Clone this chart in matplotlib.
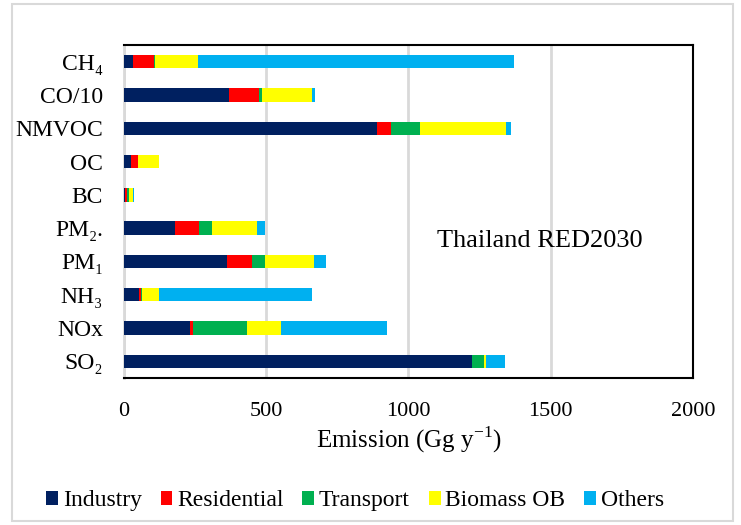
import numpy as np
import matplotlib.pyplot as plt
from matplotlib.patches import Rectangle

# =========================
# DATA (Gg per year)
# =========================
species = ["CH₄", "CO/10", "NMVOC", "OC", "BC", "PM₂.", "PM₁", "NH₃", "NOx", "SO₂"]
sectors = ["Industry", "Residential", "Transport", "Biomass OB", "Others"]

industry = [32, 369, 888, 25, 3, 179, 362, 53, 232, 1223]
residential = [73, 106, 50, 24, 7, 85, 88, 8, 9, 2]
transport = [3, 11, 102, 2, 8, 44, 47, 1, 191, 40]
biomass_ob = [152, 175, 303, 72, 13, 159, 171, 62, 120, 6]
others = [1111, 9, 17, 1, 4, 27, 43, 536, 374, 67]

colors = ["#002060", "#FF0000", "#00B050", "#FFFF00", "#00B0F0"]

serif = ["Liberation Serif", "DejaVu Serif"]
plt.rcParams["font.family"] = serif

# =========================
# PLOT
# =========================
fig = plt.figure(figsize=(7.41, 5.25), dpi=100)
ax = fig.add_axes([0.1673, 0.28, 0.7679, 0.6343])

y = np.arange(len(species))
left = np.zeros(len(species))
for name, vals, c in zip(sectors, [industry, residential, transport, biomass_ob, others], colors):
    ax.barh(y, vals, left=left, height=0.4, color=c, linewidth=0,
            label=name, zorder=3)
    left += np.array(vals)

ax.set_xlim(0, 2000)
ax.set_ylim(len(species) - 0.5, -0.5)
ax.set_yticks(y)
ax.set_yticklabels(species, fontsize=17)
ax.set_xticks([0, 500, 1000, 1500, 2000])
ax.tick_params(axis="x", labelsize=16, length=0, pad=17)
ax.tick_params(axis="y", length=0, pad=15)
ax.grid(axis="x", color="#d9d9d9", linewidth=2, zorder=0)

for s in ["top", "right", "bottom"]:
    ax.spines[s].set_color("black")
    ax.spines[s].set_linewidth(1.5)
ax.spines["left"].set_color("#d9d9d9")
ax.spines["left"].set_linewidth(2)

ax.set_xlabel("Emission (Gg y$^{\\mathregular{-1}}$)", fontsize=18, labelpad=3)
ax.text(1462, 5.4, "Thailand RED2030", fontsize=19, ha="center", va="center")

ax.legend(loc="center", bbox_to_anchor=(0.479, 0.046), bbox_transform=fig.transFigure,
          ncol=5, frameon=False, prop={"family": serif, "size": 17},
          handlelength=0.5, handleheight=0.5, handletextpad=0.2, columnspacing=0.8)

# light outer frame like the source figure
fig.patches.append(Rectangle((0.016, 0.008), 0.973, 0.985, transform=fig.transFigure,
                             fill=False, edgecolor="#d9d9d9", linewidth=1.5))

fig.savefig("out.png", dpi=100)
